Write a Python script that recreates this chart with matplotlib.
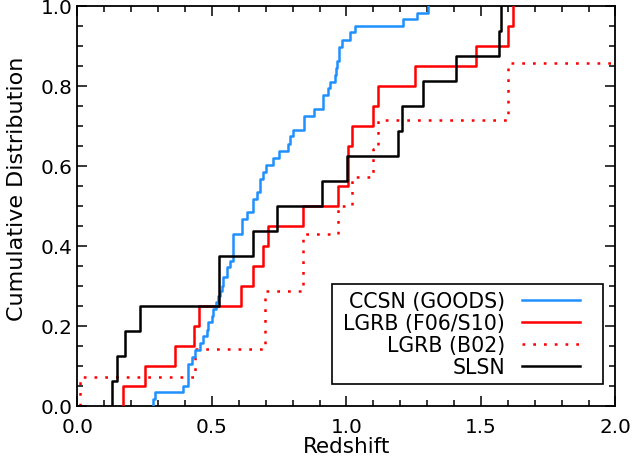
import numpy as np
import matplotlib
matplotlib.use("Agg")
import matplotlib.pyplot as plt
from matplotlib.patches import Rectangle
from matplotlib.lines import Line2D
from matplotlib.ticker import MultipleLocator, FormatStrFormatter

plt.rcParams['font.family'] = ['DejaVu Sans']

# ---------------- data ----------------
series_labels = ["CCSN (GOODS)", "LGRB (F06/S10)", "LGRB (B02)", "SLSN"]

# CCSN (GOODS): redshift of each step and cumulative fraction reached there
ccsn_z = [0.282, 0.288, 0.393, 0.412, 0.425, 0.437, 0.455, 0.468, 0.480, 0.486,
          0.499, 0.505, 0.515, 0.523, 0.530, 0.536, 0.542, 0.555, 0.567, 0.579,
          0.610, 0.629, 0.654, 0.666, 0.678, 0.691, 0.700, 0.728, 0.749, 0.781,
          0.790, 0.800, 0.843, 0.880, 0.912, 0.930, 0.939, 0.957, 0.960, 0.964,
          0.972, 0.982, 1.013, 1.032, 1.211, 1.263, 1.304]
ccsn_frac = [0.017, 0.033, 0.050, 0.104, 0.121, 0.138, 0.156, 0.175, 0.190, 0.208,
             0.225, 0.242, 0.258, 0.275, 0.2875, 0.300, 0.321, 0.346, 0.3625, 0.429,
             0.467, 0.4835, 0.517, 0.5335, 0.567, 0.585, 0.603, 0.620, 0.6375, 0.654,
             0.6735, 0.690, 0.725, 0.742, 0.777, 0.7935, 0.810, 0.827, 0.845, 0.8625,
             0.896, 0.915, 0.9335, 0.950, 0.967, 0.983, 1.000]

# LGRB (F06/S10): redshifts, 20 objects
lgrb_f06_z = [0.170, 0.252, 0.362, 0.432, 0.452, 0.608, 0.654, 0.691, 0.709, 0.837,
              0.968, 1.004, 1.004, 1.019, 1.098, 1.118, 1.255, 1.480, 1.602, 1.620]
lgrb_f06_total = 20

# LGRB (B02): redshifts below z=2 (sample of 14 objects)
lgrb_b02_z = [0.009, 0.437, 0.697, 0.697, 0.839, 0.839, 0.970, 1.019, 1.100, 1.118,
              1.602, 1.602]
lgrb_b02_total = 14

# SLSN: redshifts, 16 objects
slsn_z = [0.129, 0.146, 0.177, 0.234, 0.526, 0.526, 0.654, 0.743, 0.909, 1.001,
          1.190, 1.207, 1.286, 1.407, 1.567, 1.574]
slsn_total = 16


def cdf_from_redshifts(z, total):
    z = np.sort(np.asarray(z, dtype=float))
    frac = np.arange(1, len(z) + 1) / total
    return z, frac


def step_xy(z, frac, x_end=None):
    z = np.asarray(z, dtype=float)
    frac = np.asarray(frac, dtype=float)
    xs = np.concatenate([[z[0]], z])
    ys = np.concatenate([[0.0], frac])
    if x_end is not None and frac[-1] < 1.0:
        xs = np.concatenate([xs, [x_end]])
        ys = np.concatenate([ys, [frac[-1]]])
    return xs, ys


# ---------------- figure ----------------
fig = plt.figure(figsize=(6.34, 4.60), dpi=100)
ax = fig.add_axes([0.1222, 0.1159, 0.8486, 0.8695])

blue = '#1E90FF'
red = '#FF0000'
dotted = (0, (1.1, 3.2))
lw = 1.8

zb, fb = cdf_from_redshifts(lgrb_b02_z, lgrb_b02_total)
xs, ys = step_xy(zb, fb, x_end=2.0)
ax.step(xs, ys, where='post', color=red, lw=lw, linestyle=dotted, zorder=2)

zr, fr = cdf_from_redshifts(lgrb_f06_z, lgrb_f06_total)
xs, ys = step_xy(zr, fr)
ax.step(xs, ys, where='post', color=red, lw=lw, zorder=3)

xs, ys = step_xy(ccsn_z, ccsn_frac)
ax.step(xs, ys, where='post', color=blue, lw=lw, zorder=4)

zs, fs = cdf_from_redshifts(slsn_z, slsn_total)
xs, ys = step_xy(zs, fs)
ax.step(xs, ys, where='post', color='black', lw=lw, zorder=5)

ax.set_xlim(0, 2.0)
ax.set_ylim(0, 1.0)

ax.xaxis.set_major_locator(MultipleLocator(0.5))
ax.xaxis.set_minor_locator(MultipleLocator(0.1))
ax.yaxis.set_major_locator(MultipleLocator(0.2))
ax.yaxis.set_minor_locator(MultipleLocator(0.05))
ax.xaxis.set_major_formatter(FormatStrFormatter('%.1f'))
ax.yaxis.set_major_formatter(FormatStrFormatter('%.1f'))

ax.tick_params(which='both', direction='in', top=True, right=True,
               width=1.1, colors='black')
ax.tick_params(which='major', length=7.5, labelsize=14.4)
ax.tick_params(which='minor', length=4)
ax.tick_params(axis='x', which='major', pad=8.0)
ax.tick_params(axis='y', which='major', pad=3.6)

for sp in ax.spines.values():
    sp.set_linewidth(1.3)

fig.canvas.draw()
ylabels = ax.get_yticklabels()
ylabels[0].set_verticalalignment('bottom')
ylabels[-1].set_verticalalignment('top')

ax.set_xlabel('Redshift', fontsize=15.5)
ax.set_ylabel('Cumulative Distribution', fontsize=16)
ax.xaxis.set_label_coords(0.5, -0.076)
ax.yaxis.set_label_coords(-0.094, 0.545)

# ---------------- legend box ----------------
ax.add_patch(Rectangle((0.4736, 0.054), 0.5024, 0.2505, transform=ax.transAxes,
                       facecolor='white', edgecolor='black', lw=1.2, zorder=10))
leg_colors = [blue, red, red, 'black']
leg_styles = ['-', '-', dotted, '-']
text_base = [0.246, 0.191, 0.136, 0.081]
line_y = [0.265, 0.210, 0.155, 0.0995]
for lab, c, ls, tb, ly in zip(series_labels, leg_colors, leg_styles, text_base, line_y):
    ax.text(0.7946, tb, lab, transform=ax.transAxes, ha='right', va='baseline',
            fontsize=14.8, zorder=11)
    ax.add_line(Line2D([0.8257, 0.934], [ly, ly], transform=ax.transAxes,
                       color=c, lw=lw, linestyle=ls, zorder=11))

fig.savefig('out.png', dpi=100)
